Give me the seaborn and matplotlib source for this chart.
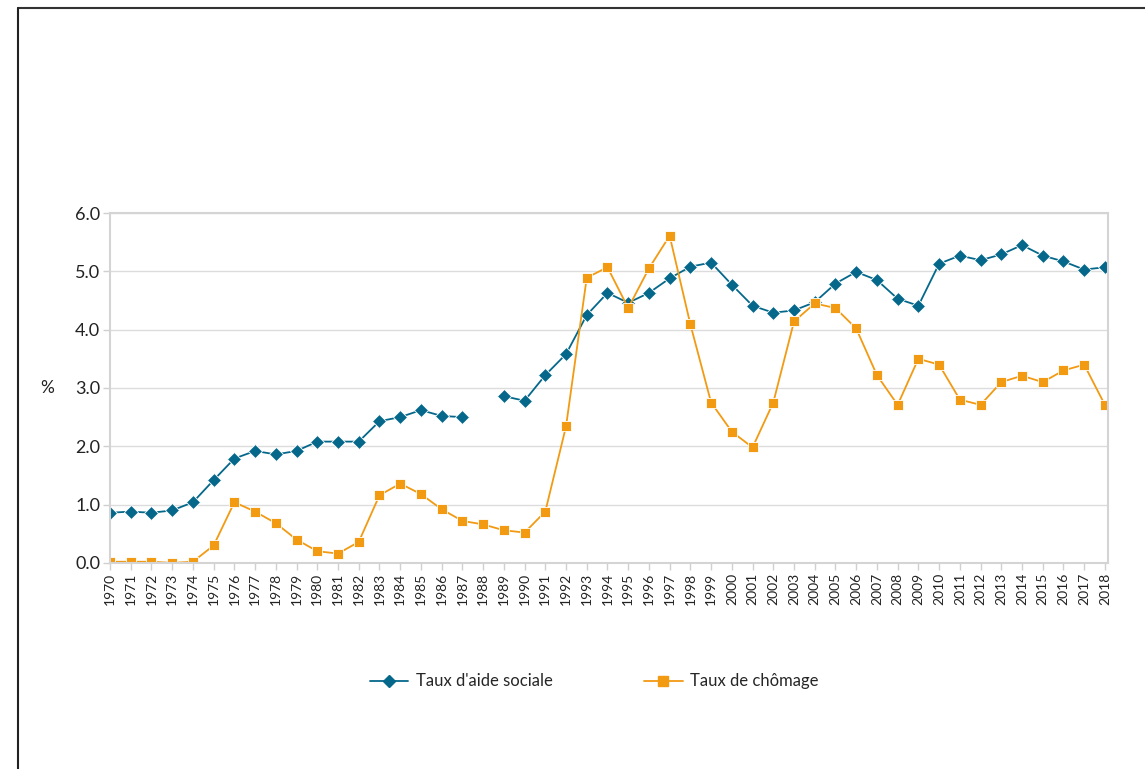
import numpy as np
import pandas as pd
import matplotlib.pyplot as plt
import seaborn as sns
from matplotlib.lines import Line2D

# Données
annees = list(range(1970, 2019))
aide_sociale = [0.86, 0.88, 0.86, 0.90, 1.04, 1.42, 1.79, 1.92, 1.86, 1.92,
                2.08, 2.08, 2.08, 2.43, 2.50, 2.62, 2.52, 2.50, np.nan, 2.86,
                2.78, 3.22, 3.58, 4.25, 4.63, 4.46, 4.63, 4.88, 5.08, 5.15,
                4.77, 4.41, 4.29, 4.33, 4.47, 4.79, 4.99, 4.85, 4.53, 4.41,
                5.13, 5.27, 5.19, 5.29, 5.45, 5.27, 5.17, 5.03, 5.07]
chomage = [0.02, 0.02, 0.02, 0.00, 0.02, 0.30, 1.04, 0.88, 0.68, 0.40,
           0.20, 0.16, 0.36, 1.16, 1.36, 1.18, 0.92, 0.72, 0.66, 0.56,
           0.52, 0.88, 2.34, 4.89, 5.07, 4.37, 5.05, 5.61, 4.09, 2.75,
           2.25, 1.98, 2.75, 4.14, 4.45, 4.37, 4.02, 3.22, 2.71, 3.50,
           3.40, 2.80, 2.71, 3.10, 3.21, 3.10, 3.30, 3.40, 2.71]
y_ticks = [0, 1, 2, 3, 4, 5, 6]

serie1 = "Taux d'aide sociale"
serie2 = "Taux de chômage"
bleu = '#05688A'
orange = '#F29A12'

# tableau long, avec un segment séparé pour la rupture de 1988
rows = []
seg = 0
for a, v in zip(annees, aide_sociale):
    if np.isnan(v):
        seg += 1
        continue
    rows.append((a, v, serie1, 'a%d' % seg))
for a, v in zip(annees, chomage):
    rows.append((a, v, serie2, 'c'))
df = pd.DataFrame(rows, columns=['annee', 'valeur', 'serie', 'segment'])

sns.set_style('white')
plt.rcParams['font.family'] = ['Lato', 'DejaVu Sans']

fig = plt.figure(figsize=(11.45, 7.69), dpi=100)
ax = fig.add_axes([0.0961, 0.268, 0.8716, 0.455])

sns.lineplot(data=df, x='annee', y='valeur', hue='serie', style='serie',
             units='segment', estimator=None, sort=True,
             palette={serie1: bleu, serie2: orange},
             markers={serie1: 'D', serie2: 's'}, dashes=False,
             linewidth=1.3, markersize=7.5, markeredgewidth=0.6,
             markeredgecolor='white', ax=ax, legend=False)

ax.set_xlim(1970, 2018.15)
ax.set_ylim(0, 6)
ax.set_yticks(y_ticks)
ax.set_yticklabels(['%.1f' % t for t in y_ticks], fontsize=13, color='#222222')
ax.set_xticks(annees)
ax.set_xticklabels([str(a) for a in annees], rotation=90, fontsize=10, color='#222222')
ax.tick_params(axis='both', length=5, color='#d0d0d0', width=1, pad=2,
               bottom=True, left=True)
ax.grid(axis='y', color='#dcdcdc', linewidth=1)
ax.set_axisbelow(True)
ax.set_xlabel('')
ax.set_ylabel('%', rotation=0, fontsize=12.5, color='#222222', va='center')
ax.yaxis.set_label_coords(-0.063, 0.5)
for s in ax.spines.values():
    s.set_color('#d4d4d4')
    s.set_linewidth(1.5)

handles = [Line2D([], [], color=bleu, marker='D', markersize=6.5, lw=1.3),
           Line2D([], [], color=orange, marker='s', markersize=6.5, lw=1.3)]
fig.legend(handles, [serie1, serie2], loc='center', bbox_to_anchor=(0.519, 0.114),
           ncol=2, frameon=False, fontsize=12, columnspacing=5.5,
           handlelength=2.3, handletextpad=0.45)

# cadre extérieur (haut et gauche)
fig.add_artist(Line2D([18 / 1145, 1], [1 - 8 / 769, 1 - 8 / 769], color='#333333', lw=1.5))
fig.add_artist(Line2D([18 / 1145, 18 / 1145], [0, 1 - 8 / 769], color='#222222', lw=1.5))

fig.savefig('out.png', dpi=100, facecolor='white')
